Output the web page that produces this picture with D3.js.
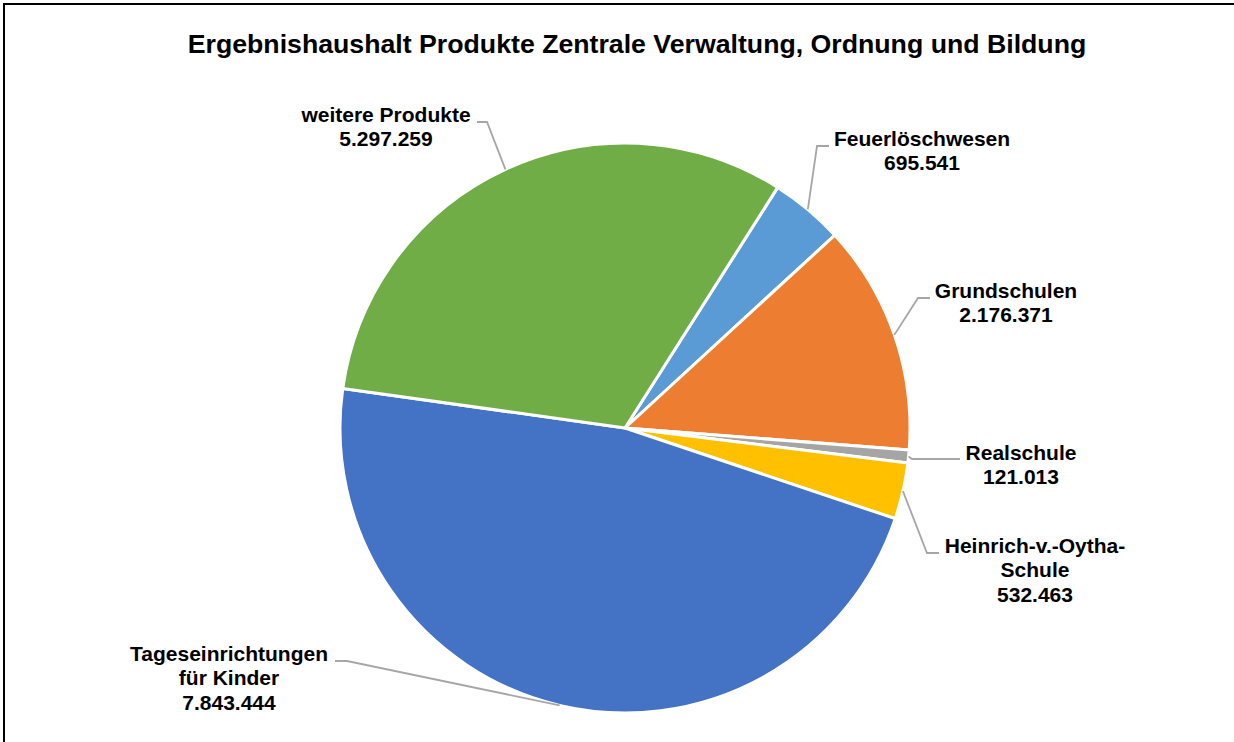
<!DOCTYPE html>
<html>
<head>
<meta charset="utf-8">
<script src="https://cdn.jsdelivr.net/npm/d3@7"></script>
<style>
  html, body { margin: 0; padding: 0; background: #fff; overflow: hidden; }
  text { font-family: "Liberation Sans", Arial, sans-serif; font-weight: bold; fill: #000; }
</style>
</head>
<body>
<script>
// ---- data ----
const title = "Ergebnishaushalt Produkte Zentrale Verwaltung, Ordnung und Bildung";
const categories = [
  "Feuerlöschwesen",
  "Grundschulen",
  "Realschule",
  "Heinrich-v.-Oytha-\nSchule",
  "Tageseinrichtungen\nfür Kinder",
  "weitere Produkte"
];
const values = [695541, 2176371, 121013, 532463, 7843444, 5297259];
const colors = ["#5B9BD5", "#ED7D31", "#A5A5A5", "#FFC000", "#4472C4", "#70AD47"];

// ---- layout (label anchors, not data) ----
const labelLayout = [
  { cx: 922, y: 146, elbow: [817, 146], end: [829, 146] },
  { cx: 1006, y: 298, elbow: [918, 298], end: [930, 298] },
  { cx: 1021, y: 460, elbow: [912, 459], end: [960, 459] },
  { cx: 1035, y: 553, elbow: [927, 553], end: [939, 553] },
  { cx: 229, y: 661, elbow: [347, 661], end: [335, 661] },
  { cx: 386, y: 122, elbow: [487, 122], end: [477, 122] }
];

const W = 1234, H = 742;
const cx = 625, cy = 428, R = 285;
const startDeg = 32.4;

const svg = d3.select("body").append("svg").attr("width", W).attr("height", H);

svg.append("rect").attr("x", 4).attr("y", 4).attr("width", 1400).attr("height", 900)
  .attr("fill", "none").attr("stroke", "#000").attr("stroke-width", 2);

svg.append("text").attr("x", 637).attr("y", 53).attr("text-anchor", "middle")
  .style("font-size", "26.7px").text(title);

const locale = d3.formatLocale({ decimal: ",", thousands: ".", grouping: [3], currency: ["", "€"] });
const fmt = locale.format(",d");

const a0 = startDeg * Math.PI / 180;
const pie = d3.pie().sort(null).value(d => d).startAngle(a0).endAngle(a0 + 2 * Math.PI);
const arcs = pie(values);
const arc = d3.arc().innerRadius(0).outerRadius(R);

const g = svg.append("g").attr("transform", `translate(${cx},${cy})`);
g.selectAll("path.slice").data(arcs).join("path")
  .attr("class", "slice")
  .attr("d", arc)
  .attr("fill", (d, i) => colors[i])
  .attr("stroke", "#fff").attr("stroke-width", 3).attr("stroke-linejoin", "round");

// leader lines
arcs.forEach((d, i) => {
  const m = (d.startAngle + d.endAngle) / 2;
  const px = cx + R * Math.sin(m), py = cy - R * Math.cos(m);
  const L = labelLayout[i];
  svg.append("path")
    .attr("d", d3.line()([[px, py], L.elbow, L.end]))
    .attr("fill", "none").attr("stroke", "#A6A6A6").attr("stroke-width", 1.8);
  const lines = categories[i].split("\n").concat([fmt(values[i])]);
  const t = svg.append("text").attr("text-anchor", "middle").style("font-size", "21px");
  lines.forEach((s, k) => {
    t.append("tspan").attr("x", L.cx).attr("y", L.y + k * 24.4).text(s);
  });
});
</script>
</body>
</html>
